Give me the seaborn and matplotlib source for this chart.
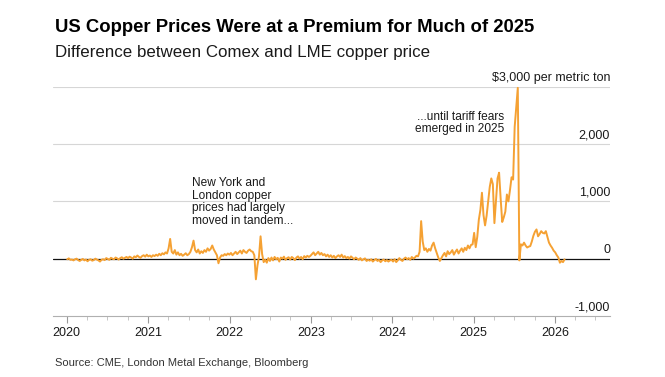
import pandas as pd
import matplotlib
matplotlib.use("Agg")
import matplotlib.pyplot as plt
import matplotlib.dates as mdates
from matplotlib.transforms import blended_transform_factory, offset_copy
import seaborn as sns

# Comex minus LME copper price, $ per metric ton, weekly readings
v2020 = [-10, 5, -20, -15, -30, -10, 0, -25, -40, -20, -5, -30, -15, -45, -20, -10,
         -35, -25, 0, -15, -30, -50, -20, -10, -25, 10, -5, -20, 15, 0, -10, 20,
         5, -15, 10, 25, 0, 15, 30, 10, 35, 20, 0, 40, 25, 55, 30, 15, 45, 60, 35, 70]
v2021 = [40, 55, 30, 60, 45, 70, 50, 85, 60, 95, 75, 110, 90,
         180, 345, 120,
         90, 150, 70, 110, 60, 85, 50, 70, 95, 60, 80, 120,
         200, 315, 150,
         110, 160, 90, 130, 100, 150, 120, 180, 140, 170,
         230, 160, 110, 60, -80, 20, 60,
         50, 80, 60, 90]
v2022 = [70, 100, 60, 90, 120, 80, 110, 140, 90, 150, 120, 100, 140, 160, 130, 120,
         60, -360, -120, 40, 390, 80, -60,
         -20, -70, 10, -40, 20, -30, 30, -10, 15, -50, 20, 0, 35, -20, 10, 25,
         -15, 30, 10, -25, 20, 40, 0, 30, -10, 45, 20, 50, 30]
v2023 = [50, 80, 110, 60, 90, 120, 70, 100, 60, 80, 40, 70, 30, 60, 20, 50, 10,
         40, 60, 30, 70, 20, 45, 10, 30, 0, 40, 15, -10, 20, 0, -20, 10, -30, -10,
         5, -40, -20, -35, -10, -50, -25, -5, -40, -20, -60, -30, -15, -45, -25, -50, -30]
v2024 = [-20, -50, -10, -60, -30, 10, -20, -40, 0, 20, -10, 10, -20, 30, 0,
         20, 50, 40, 120,
         655, 300, 150, 180, 120, 170, 140, 230, 280, 180, 100, 20, -40, 10,
         60, 100, 40, 130, 80, 110, 150, 70, 120, 160, 90, 140, 180, 120, 190,
         150, 230, 180, 240]
v2025 = [250, 450, 200, 380, 680, 850, 1150, 760, 580, 750, 1000, 1250, 1400, 1300,
         620, 1000, 1400, 1500, 1050, 640, 720, 820, 1120, 1000, 1200, 1420, 1380,
         2300, 2650, 2980, -30,
         250, 230, 280, 230, 195, 210, 220, 300, 400, 470, 510, 390, 430, 480, 450,
         440, 480, 380, 280, 230, 190]
v2026 = [140, 110, 60, 20, -70, -40, -60, -12]

values = v2020 + v2021 + v2022 + v2023 + v2024 + v2025 + v2026
dates = pd.date_range("2020-01-03", periods=len(values), freq="W-FRI")
df = pd.DataFrame({"date": dates, "spread": values})

y_ticks = [-1000, 0, 1000, 2000, 3000]
y_labels = ["-1,000", "0", "1,000", "2,000", "$3,000 per metric ton"]

ORANGE = "#f5a133"
TXT = "#1a1a1a"

sns.set_theme(style="white")
plt.rcParams["font.family"] = ["Liberation Sans", "DejaVu Sans"]

W, H = 665, 377
fig = plt.figure(figsize=(W / 100, H / 100), dpi=100)
ax = fig.add_axes([53 / W, 1 - 316 / H, (610 - 53) / W, (316 - 86.7) / H])

for v in y_ticks:
    if v == 0:
        ax.axhline(v, color="#111111", lw=0.9, zorder=1)
    elif v != -1000:
        ax.axhline(v, color="#d6d6d6", lw=0.8, zorder=0)

sns.lineplot(data=df, x="date", y="spread", ax=ax, color=ORANGE,
             linewidth=1.4, clip_on=False, zorder=3)

ax.set_ylim(-1000, 3000)
ax.set_xlim(pd.Timestamp("2019-10-31"), pd.Timestamp("2026-09-05"))
ax.set_xlabel("")
ax.set_ylabel("")
ax.set_yticks([])

ax.xaxis.set_major_locator(mdates.YearLocator())
ax.xaxis.set_major_formatter(mdates.DateFormatter("%Y"))
ax.xaxis.set_minor_locator(mdates.MonthLocator(bymonth=[4, 7, 10]))
ax.tick_params(axis="x", which="major", length=5, width=0.8, color="#999999",
               labelsize=9, labelcolor=TXT, pad=3, bottom=True)
ax.tick_params(axis="x", which="minor", length=3, width=0.6, color="#bbbbbb", bottom=True)

for s in ["left", "right", "top"]:
    ax.spines[s].set_visible(False)
ax.spines["bottom"].set_color("#b0b0b0")
ax.spines["bottom"].set_linewidth(0.8)

trans = offset_copy(blended_transform_factory(ax.transAxes, ax.transData),
                    fig=fig, x=0, y=6, units="dots")
for v, lab in zip(y_ticks, y_labels):
    ax.text(1.0, v, lab, transform=trans, ha="right", va="baseline",
            fontsize=9, color=TXT)

ax.text(pd.Timestamp("2021-07-14"), 1420,
        "New York and\nLondon copper\nprices had largely\nmoved in tandem...",
        ha="left", va="top", fontsize=8.6, color=TXT, linespacing=1.05)
ax.text(pd.Timestamp("2025-05-19"), 2580,
        "...until tariff fears\nemerged in 2025",
        ha="right", va="top", fontsize=8.6, color=TXT, linespacing=1.05)

fig.text(55 / W, 1 - 31.7 / H, "US Copper Prices Were at a Premium for Much of 2025",
         ha="left", va="baseline", fontsize=13.3, fontweight="bold", color="#000000")
fig.text(55 / W, 1 - 56.7 / H, "Difference between Comex and LME copper price",
         ha="left", va="baseline", fontsize=12.2, color=TXT)
fig.text(55 / W, 1 - 366 / H, "Source: CME, London Metal Exchange, Bloomberg",
         ha="left", va="baseline", fontsize=8, color="#333333")

fig.savefig("out.png", dpi=100)
